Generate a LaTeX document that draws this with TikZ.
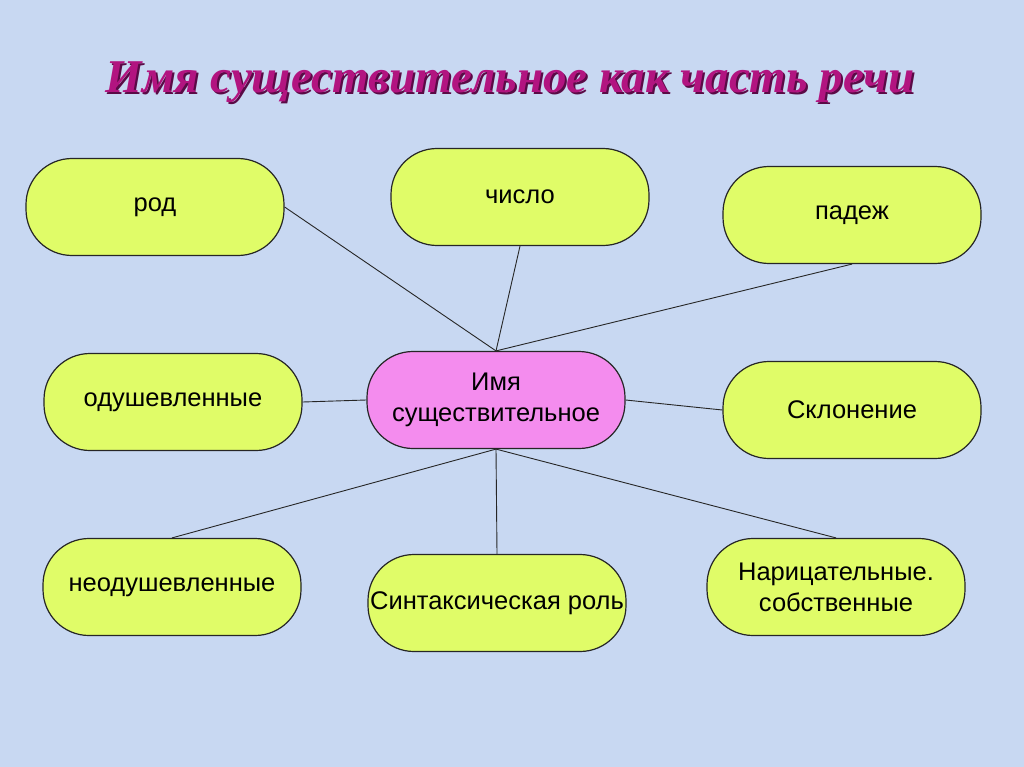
\documentclass[tikz,border=0pt]{standalone}
\usepackage{fontspec}
\setmainfont{Liberation Sans}
\newfontfamily\titlefont{Liberation Serif}
\definecolor{bgc}{RGB}{200,216,242}
\definecolor{limec}{RGB}{224,252,104}
\definecolor{pinkc}{RGB}{244,140,238}
\definecolor{titlec}{RGB}{178,20,128}
\definecolor{shadowc}{RGB}{90,10,70}
\begin{document}
\begin{tikzpicture}[x=1pt,y=-1pt,
  pill/.style={draw=black!85, line width=1.2pt, fill=limec, rounded corners=46pt,
    minimum width=258pt, minimum height=97pt, inner sep=0pt, align=center,
    font=\fontsize{25.5}{31}\selectfont},
  centre/.style={pill, fill=pinkc},
  link/.style={draw=black!85, line width=0.9pt},
  ttl/.style={font=\titlefont\bfseries\itshape\fontsize{47}{50}\selectfont, inner sep=0pt}]
\fill[bgc] (0,0) rectangle (1024,767);
\useasboundingbox (0,0) rectangle (1024,767);
\node[ttl, text=shadowc] (titleshadow) at (512,84) {Имя существительное как часть речи};
\node[ttl, text=titlec] (title) at (510,82) {Имя существительное как часть речи};
\node[pill] (rod) at (155,207) {род};
\node[pill] (chislo) at (520,197) {число};
\node[pill] (padezh) at (852,215) {падеж};
\node[pill] (odush) at (173,402) {одушевленные};
\node[centre] (noun) at (496,400) {Имя\\существительное};
\node[pill] (sklon) at (852,410) {Склонение};
\node[pill] (neodush) at (172,587) {неодушевленные};
\node[pill] (sint) at (497,603) {Синтаксическая роль};
\node[pill] (narits) at (836,587) {Нарицательные.\\собственные};
\draw[link] (rod.east) -- (noun.north);
\draw[link] (chislo.south) -- (noun.north);
\draw[link] (padezh.south) -- (noun.north);
\draw[link] (odush.east) -- (noun.west);
\draw[link] (noun.east) -- (sklon.west);
\draw[link] (noun.south) -- (neodush.north);
\draw[link] (noun.south) -- (sint.north);
\draw[link] (noun.south) -- (narits.north);
\end{tikzpicture}
\end{document}
